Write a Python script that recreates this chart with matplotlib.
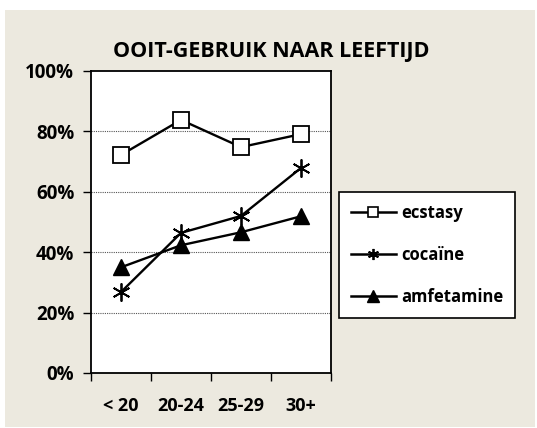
import matplotlib
matplotlib.use("Agg")
from matplotlib import pyplot as plt
from matplotlib import font_manager as fm
from matplotlib.patches import Rectangle
from matplotlib.lines import Line2D
from matplotlib.ticker import FixedLocator, NullFormatter, FuncFormatter

categories = ["< 20", "20-24", "25-29", "30+"]
ecstasy = [72.2, 83.8, 74.8, 79.1]
cocaine = [26.8, 46.4, 52.0, 67.9]
amfetamine = [35.0, 42.3, 46.6, 51.9]
series_names = ["ecstasy", "cocaïne", "amfetamine"]

# pick a family that really has a bold face
fam = 'DejaVu Sans'
for name in ['Open Sans', 'Lato', 'Noto Sans', 'Liberation Sans']:
    f = fm.findfont(fm.FontProperties(family=name, weight='bold'), fallback_to_default=False)
    if 'bold' in f.lower():
        fam = name
        break
plt.rcParams['font.family'] = [fam, 'DejaVu Sans']
plt.rcParams['font.weight'] = 'bold'

W, H = 537, 428
fig = plt.figure(figsize=(W / 100, H / 100), dpi=100)
fig.patch.set_facecolor('white')

# beige panel behind the chart
bg = Rectangle((5 / W, 1 - 427 / H), 530 / W, 417 / H, transform=fig.transFigure,
               facecolor='#ECE9DF', edgecolor='none', zorder=-10)
fig.patches.append(bg)

ax = fig.add_axes([91 / W, 1 - 373 / H, 240 / W, 302 / H])
ax.set_zorder(1)
ax.set_facecolor('white')

asterisk = (6, 2, 0)
x = range(len(categories))
ax.plot(x, ecstasy, color='black', lw=1.7, marker='s', ms=11,
        mfc='white', mec='black', mew=1.3, label=series_names[0])
ax.plot(x, cocaine, color='black', lw=1.7, marker=asterisk, ms=13,
        mew=1.3, label=series_names[1])
ax.plot(x, amfetamine, color='black', lw=1.7, marker='^', ms=12,
        mfc='black', mec='black', label=series_names[2])

ax.set_xlim(-0.5, 3.5)
ax.set_ylim(0, 100)

ax.xaxis.set_major_locator(FixedLocator([-0.5, 0.5, 1.5, 2.5, 3.5]))
ax.xaxis.set_major_formatter(NullFormatter())
ax.xaxis.set_minor_locator(FixedLocator(list(x)))
ax.set_xticklabels(categories, minor=True)
ax.tick_params(axis='x', which='major', direction='out', length=6, width=1)
ax.tick_params(axis='x', which='minor', length=0, pad=17, labelsize=13)

ax.set_yticks([0, 20, 40, 60, 80, 100])
ax.yaxis.set_major_formatter(FuncFormatter(lambda v, p: f"{int(v)}%"))
ax.tick_params(axis='y', direction='out', length=6, width=1, labelsize=13.5, pad=6)

for v in [20, 40, 60, 80]:
    ax.axhline(v, color='#555555', lw=0.8, ls=(0, (1, 1)), zorder=0.5)

for s in ax.spines.values():
    s.set_linewidth(1.3)

for lab in ax.get_xticklabels(minor=True) + ax.get_yticklabels():
    lab.set_fontweight('bold')

fig.text(271 / W, 1 - 52 / H, "OOIT-GEBRUIK NAAR LEEFTIJD", ha='center',
         va='center', fontsize=15.5, fontweight='bold')

h1 = Line2D([], [], color='black', lw=1.8, marker='s', ms=7, mfc='white', mec='black', mew=1.2)
h2 = Line2D([], [], color='black', lw=1.8, marker=asterisk, ms=8, mew=1.3)
h3 = Line2D([], [], color='black', lw=1.8, marker='^', ms=8, mfc='black')
leg = fig.legend([h1, h2, h3], series_names, loc='upper left',
                 bbox_to_anchor=(339 / W, 1 - 192 / H), bbox_transform=fig.transFigure,
                 borderaxespad=0, frameon=True, fancybox=False, edgecolor='black',
                 framealpha=1, prop={'weight': 'bold', 'size': 12}, handlelength=2.7,
                 labelspacing=1.45, borderpad=0.7, handletextpad=0.35)
leg.get_frame().set_linewidth(1.2)

fig.savefig("out.png", dpi=100, facecolor=fig.get_facecolor())
